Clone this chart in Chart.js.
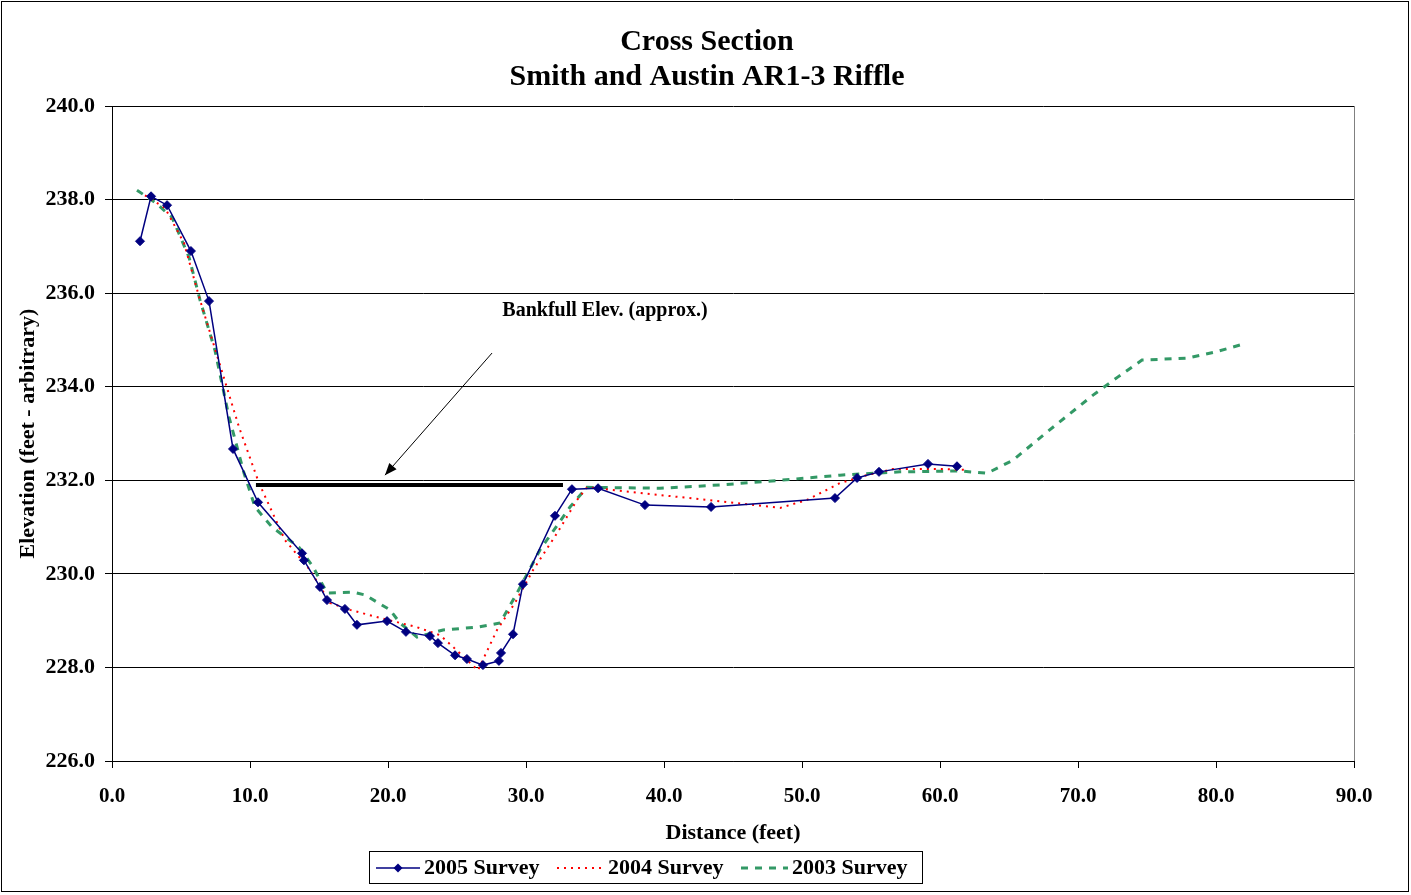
<!DOCTYPE html>
<html>
<head>
<meta charset="utf-8">
<script src="https://cdn.jsdelivr.net/npm/chart.js@4/dist/chart.umd.min.js"></script>
<style>
  html, body { margin: 0; padding: 0; background: #fff; }
  canvas { display: block; }
</style>
</head>
<body>
<canvas id="c" width="1411" height="895"></canvas>
<script>
// ---------- DATA ----------
const titleLines = ['Cross Section', 'Smith and Austin AR1-3 Riffle'];
const xAxisTitle = 'Distance (feet)';
const yAxisTitle = 'Elevation (feet - arbitrary)';
const seriesNames = ['2005 Survey', '2004 Survey', '2003 Survey'];

const dist2005 = [2.03, 2.83, 3.99, 5.72, 7.03, 8.77, 10.58, 13.77, 13.91, 15.07, 15.58, 16.88, 17.75, 19.93, 21.30, 23.04, 23.62, 24.86, 25.72, 26.88, 28.04, 28.19, 29.06, 29.78, 32.10, 33.33, 35.22, 38.62, 43.41, 52.39, 53.99, 55.58, 59.13, 61.23];
const elev2005 = [237.11, 238.07, 237.88, 236.90, 235.83, 232.67, 231.53, 230.44, 230.29, 229.72, 229.44, 229.25, 228.91, 228.99, 228.76, 228.67, 228.52, 228.26, 228.18, 228.05, 228.14, 228.31, 228.71, 229.78, 231.24, 231.81, 231.83, 231.47, 231.43, 231.62, 232.05, 232.18, 232.35, 232.30];

const dist2004 = [2.39, 3.84, 5.22, 6.38, 7.83, 9.20, 10.65, 12.54, 14.35, 15.80, 17.25, 19.42, 22.10, 23.77, 24.71, 25.72, 26.52, 27.90, 29.20, 30.51, 32.25, 33.70, 34.42, 38.26, 43.12, 48.41, 50.36, 52.75, 54.71, 56.59, 60.22, 62.03];
const elev2004 = [238.09, 237.82, 237.07, 235.85, 234.46, 233.14, 231.94, 230.72, 230.08, 229.38, 229.23, 229.06, 228.86, 228.69, 228.44, 228.16, 227.94, 228.80, 229.38, 230.08, 230.87, 231.58, 231.85, 231.73, 231.58, 231.41, 231.58, 231.94, 232.11, 232.24, 232.24, 232.22];

const dist2003 = [1.81, 3.12, 4.35, 5.58, 6.38, 7.46, 8.48, 9.57, 10.36, 11.59, 13.55, 14.57, 15.58, 17.46, 18.33, 20.14, 20.87, 22.10, 23.99, 26.45, 28.12, 29.35, 31.01, 33.19, 34.42, 39.71, 44.06, 48.41, 52.75, 57.10, 61.45, 63.41, 65.29, 67.75, 71.09, 72.90, 74.64, 77.90, 79.93, 81.96];
const elev2003 = [238.20, 237.94, 237.62, 236.77, 235.85, 234.78, 233.35, 232.15, 231.43, 231.00, 230.57, 230.15, 229.59, 229.61, 229.55, 229.23, 228.95, 228.65, 228.80, 228.86, 228.95, 229.59, 230.51, 231.43, 231.85, 231.83, 231.90, 232.00, 232.11, 232.18, 232.20, 232.15, 232.43, 233.03, 233.82, 234.21, 234.57, 234.61, 234.74, 234.91];

const bankfullDist = [10.43, 32.68];
const bankfullElev = [231.90, 231.90];
const bankfullLabel = 'Bankfull Elev. (approx.)';
const bankfullLabelAt = [35.72, 235.62];     // data coords (x, y) of label center
const bankfullArrowFrom = [27.54, 234.72];   // data coords
const bankfullArrowTo = [19.78, 232.11];

const xTicks = { min: 0, max: 90, step: 10 };
const yTicks = { min: 226, max: 240, step: 2 };

// ---------- HELPERS ----------
const FONT = "'Liberation Serif', 'Times New Roman', serif";
const pts = (xs, ys) => xs.map((x, i) => ({ x: x, y: ys[i] }));

const frameAndTitle = {
  id: 'frameAndTitle',
  beforeDraw(chart) {
    const ctx = chart.ctx;
    ctx.save();
    ctx.fillStyle = '#fff';
    ctx.fillRect(0, 0, chart.width, chart.height);
    ctx.restore();
  },
  afterDraw(chart) {
    const ctx = chart.ctx;
    const ca = chart.chartArea;
    const xs = chart.scales.x, ys = chart.scales.y;
    ctx.save();
    // outer frame
    ctx.strokeStyle = '#000';
    ctx.lineWidth = 1;
    ctx.strokeRect(1.5, 1.5, 1407, 890);
    // plot right border
    ctx.strokeStyle = '#808080';
    ctx.beginPath();
    ctx.moveTo(Math.round(ca.right) + 0.5, ca.top);
    ctx.lineTo(Math.round(ca.right) + 0.5, ca.bottom);
    ctx.stroke();
    // title
    ctx.fillStyle = '#000';
    ctx.textAlign = 'center';
    ctx.textBaseline = 'middle';
    ctx.font = 'bold 30px ' + FONT;
    ctx.fillText(titleLines[0], 707, 42);
    ctx.fillText(titleLines[1], 707, 77);
    // bankfull label
    ctx.font = 'bold 20px ' + FONT;
    ctx.fillText(bankfullLabel, xs.getPixelForValue(bankfullLabelAt[0]), ys.getPixelForValue(bankfullLabelAt[1]));
    // arrow
    const x1 = xs.getPixelForValue(bankfullArrowFrom[0]), y1 = ys.getPixelForValue(bankfullArrowFrom[1]);
    const x2 = xs.getPixelForValue(bankfullArrowTo[0]), y2 = ys.getPixelForValue(bankfullArrowTo[1]);
    ctx.strokeStyle = '#000';
    ctx.lineWidth = 1;
    ctx.beginPath();
    ctx.moveTo(x1, y1);
    ctx.lineTo(x2, y2);
    ctx.stroke();
    const ang = Math.atan2(y2 - y1, x2 - x1);
    const L = 13, W = 0.38;
    ctx.beginPath();
    ctx.moveTo(x2, y2);
    ctx.lineTo(x2 - L * Math.cos(ang - W), y2 - L * Math.sin(ang - W));
    ctx.lineTo(x2 - L * Math.cos(ang + W), y2 - L * Math.sin(ang + W));
    ctx.closePath();
    ctx.fillStyle = '#000';
    ctx.fill();

    // legend
    const lx = 369, ly = 851, lw = 553, lh = 32;
    ctx.strokeStyle = '#000';
    ctx.lineWidth = 1;
    ctx.strokeRect(lx + 0.5, ly + 0.5, lw, lh);
    const cy = ly + lh / 2 + 1;
    ctx.font = 'bold 22px ' + FONT;
    ctx.textAlign = 'left';
    ctx.textBaseline = 'middle';
    ctx.fillStyle = '#000';
    const items = [
      { x0: 376, x1: 420, tx: 424, ds: chart.data.datasets[1] },
      { x0: 557, x1: 604, tx: 608, ds: chart.data.datasets[2] },
      { x0: 741, x1: 788, tx: 792, ds: chart.data.datasets[3] }
    ];
    items.forEach((it, i) => {
      ctx.save();
      ctx.strokeStyle = it.ds.borderColor;
      ctx.lineWidth = it.ds.borderWidth;
      ctx.setLineDash(it.ds.borderDash || []);
      ctx.beginPath();
      ctx.moveTo(it.x0, cy);
      ctx.lineTo(it.x1, cy);
      ctx.stroke();
      ctx.setLineDash([]);
      if (i === 0) {
        const r = 4.5, mx = (it.x0 + it.x1) / 2;
        ctx.fillStyle = it.ds.pointBackgroundColor;
        ctx.beginPath();
        ctx.moveTo(mx, cy - r); ctx.lineTo(mx + r, cy); ctx.lineTo(mx, cy + r); ctx.lineTo(mx - r, cy);
        ctx.closePath();
        ctx.fill();
      }
      ctx.restore();
      ctx.fillStyle = '#000';
      ctx.fillText(seriesNames[i], it.tx, cy);
    });
    ctx.restore();
  }
};

new Chart(document.getElementById('c'), {
  type: 'scatter',
  data: {
    datasets: [
      {
        label: 'Bankfull',
        data: pts(bankfullDist, bankfullElev),
        showLine: true,
        borderColor: '#000',
        borderWidth: 4,
        pointRadius: 0,
        borderCapStyle: 'butt'
      },
      {
        label: seriesNames[0],
        data: pts(dist2005, elev2005),
        showLine: true,
        borderColor: '#000080',
        backgroundColor: '#000080',
        pointBackgroundColor: '#000080',
        pointBorderColor: '#000080',
        borderWidth: 1.5,
        pointStyle: 'rectRot',
        pointRadius: 4.5,
        pointBorderWidth: 1,
        tension: 0
      },
      {
        label: seriesNames[1],
        data: pts(dist2004, elev2004),
        showLine: true,
        borderColor: '#FF0000',
        borderWidth: 2,
        borderDash: [2, 5],
        pointRadius: 0,
        tension: 0
      },
      {
        label: seriesNames[2],
        data: pts(dist2003, elev2003),
        showLine: true,
        borderColor: '#339966',
        borderWidth: 3,
        borderDash: [7, 7],
        pointRadius: 0,
        tension: 0
      }
    ]
  },
  options: {
    responsive: false,
    animation: false,
    devicePixelRatio: 1,
    layout: { padding: { left: 0, right: 57, top: 106, bottom: 44 } },
    plugins: {
      legend: { display: false },
      title: { display: false },
      tooltip: { enabled: false }
    },
    scales: {
      x: {
        type: 'linear',
        min: xTicks.min, max: xTicks.max,
        afterFit: (s) => { s.height = 90; },
        ticks: {
          stepSize: xTicks.step,
          color: '#000',
          padding: 16,
          maxRotation: 0,
          font: { family: FONT, size: 21, weight: 'bold' },
          callback: (v) => Number(v).toFixed(1)
        },
        grid: { drawOnChartArea: false, drawTicks: true, tickLength: 7, color: '#000', tickColor: '#000' },
        border: { display: true, color: '#000', width: 1 },
        title: {
          display: true, text: xAxisTitle, color: '#000',
          font: { family: FONT, size: 22, weight: 'bold' },
          padding: { top: 0, bottom: 4 }
        }
      },
      y: {
        type: 'linear',
        min: yTicks.min, max: yTicks.max,
        afterFit: (s) => { s.width = 112; },
        ticks: {
          stepSize: yTicks.step,
          color: '#000',
          padding: 10,
          font: { family: FONT, size: 22, weight: 'bold' },
          callback: (v) => Number(v).toFixed(1)
        },
        grid: { drawOnChartArea: true, drawTicks: true, tickLength: 7, color: '#000', tickColor: '#000', lineWidth: 1 },
        border: { display: true, color: '#000', width: 1 },
        title: {
          display: true, text: yAxisTitle, color: '#000',
          font: { family: FONT, size: 22, weight: 'bold' },
          padding: { top: 15, bottom: 0 }
        }
      }
    }
  },
  plugins: [frameAndTitle]
});
</script>
</body>
</html>
